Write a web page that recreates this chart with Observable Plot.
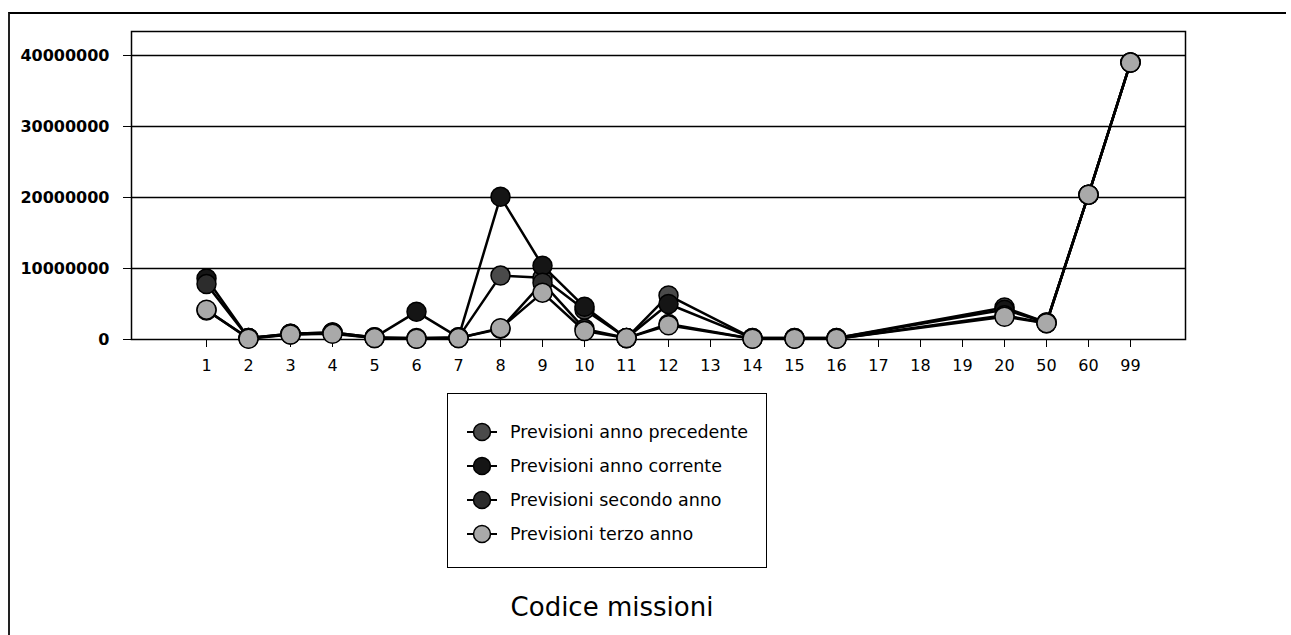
<!DOCTYPE html>
<html>
<head>
<meta charset="utf-8">
<script src="https://cdn.jsdelivr.net/npm/d3@7"></script>
<script src="https://cdn.jsdelivr.net/npm/@observablehq/plot@0.6"></script>
<style>
  html, body { margin: 0; padding: 0; background: #fff; }
  body { width: 1291px; height: 635px; position: relative; overflow: hidden; font-family: "DejaVu Sans", sans-serif; }
  #outer { position: absolute; left: 8px; top: 12px; width: 1278px; height: 623px; border-top: 2px solid #000; border-left: 2px solid #222; box-sizing: border-box; }
  #chart { position: absolute; left: 0; top: 0; }
  #legend { position: absolute; left: 447px; top: 393px; width: 320px; height: 175px; border: 1.5px solid #000; box-sizing: border-box; background: #fff; }
  .item { position: absolute; left: 18px; height: 24px; display: flex; align-items: center; font-size: 17.5px; color: #000; }
  .item svg { margin-right: 12px; }
  #title { position: absolute; left: 0; width: 1224px; top: 592px; text-align: center; font-size: 26px; color: #000; }
</style>
</head>
<body>
<div id="outer"></div>
<div id="chart"></div>
<div id="legend"></div>
<div id="title">Codice missioni</div>
<script>
const categorie = ["1","2","3","4","5","6","7","8","9","10","11","12","13","14","15","16","17","18","19","20","50","60","99"];
const nomiSerie = ["Previsioni anno precedente","Previsioni anno corrente","Previsioni secondo anno","Previsioni terzo anno"];
const coloriSerie = ["#4a4a4a","#151515","#2c2c2c","#a9a9a9"];
const annoPrecedente = [4100000,200000,800000,1000000,300000,200000,300000,9000000,8700000,4200000,200000,6200000,null,200000,200000,200000,null,null,null,4500000,2400000,20400000,39000000];
const annoCorrente   = [8600000,200000,800000,1000000,300000,3900000,300000,20100000,10400000,4600000,200000,5000000,null,200000,200000,200000,null,null,null,4200000,2400000,20400000,39000000];
const secondoAnno    = [7800000,200000,700000,900000,200000,100000,200000,1500000,8000000,1500000,200000,2200000,null,100000,100000,100000,null,null,null,3400000,2300000,20400000,39000000];
const terzoAnno      = [4200000,100000,700000,800000,200000,100000,200000,1600000,6600000,1200000,200000,2000000,null,100000,100000,100000,null,null,null,3200000,2300000,20400000,39000000];
const tickY = [0,10000000,20000000,30000000,40000000];

const valori = [annoPrecedente, annoCorrente, secondoAnno, terzoAnno];
const righe = [];
valori.forEach((arr, s) => arr.forEach((v, i) => {
  if (v != null) righe.push({cat: categorie[i], val: v, serie: nomiSerie[s]});
}));

const marks = [
  Plot.ruleY(tickY.slice(1), {stroke: "#000", strokeWidth: 1.5}),
  Plot.frame({stroke: "#000", strokeWidth: 1.5}),
  Plot.axisY({ticks: tickY, tickSize: 8, tickPadding: 14, tickFormat: d => String(d), fontWeight: "bold", fontSize: 16, label: null}),
  Plot.axisX({tickSize: 8, tickPadding: 12, fontSize: 16, label: null})
];
nomiSerie.forEach((nome, s) => {
  const dati = righe.filter(r => r.serie === nome);
  marks.push(Plot.line(dati, {x: "cat", y: "val", stroke: "#000", strokeWidth: 2.5}));
  marks.push(Plot.dot(dati, {x: "cat", y: "val", r: 9.5, fill: coloriSerie[s], stroke: "#000", strokeWidth: 1.5}));
});

const chart = Plot.plot({
  width: 1291,
  height: 385,
  marginLeft: 131,
  marginRight: 106,
  marginTop: 31,
  marginBottom: 46,
  style: {fontFamily: "DejaVu Sans, sans-serif", color: "#000", background: "transparent"},
  x: {type: "point", domain: categorie, padding: 0, insetLeft: 64, insetRight: 45},
  y: {domain: [0, 43380000]},
  marks
});
document.getElementById("chart").appendChild(chart);

const legend = document.getElementById("legend");
nomiSerie.forEach((nome, s) => {
  const item = document.createElement("div");
  item.className = "item";
  item.style.top = (26 + s * 34) + "px";
  item.innerHTML = `<svg width="32" height="22"><line x1="1" y1="11" x2="31" y2="11" stroke="#000" stroke-width="2"/><circle cx="16" cy="11" r="8.5" fill="${coloriSerie[s]}" stroke="#000" stroke-width="1.5"/></svg><span>${nome}</span>`;
  legend.appendChild(item);
});
</script>
</body>
</html>
